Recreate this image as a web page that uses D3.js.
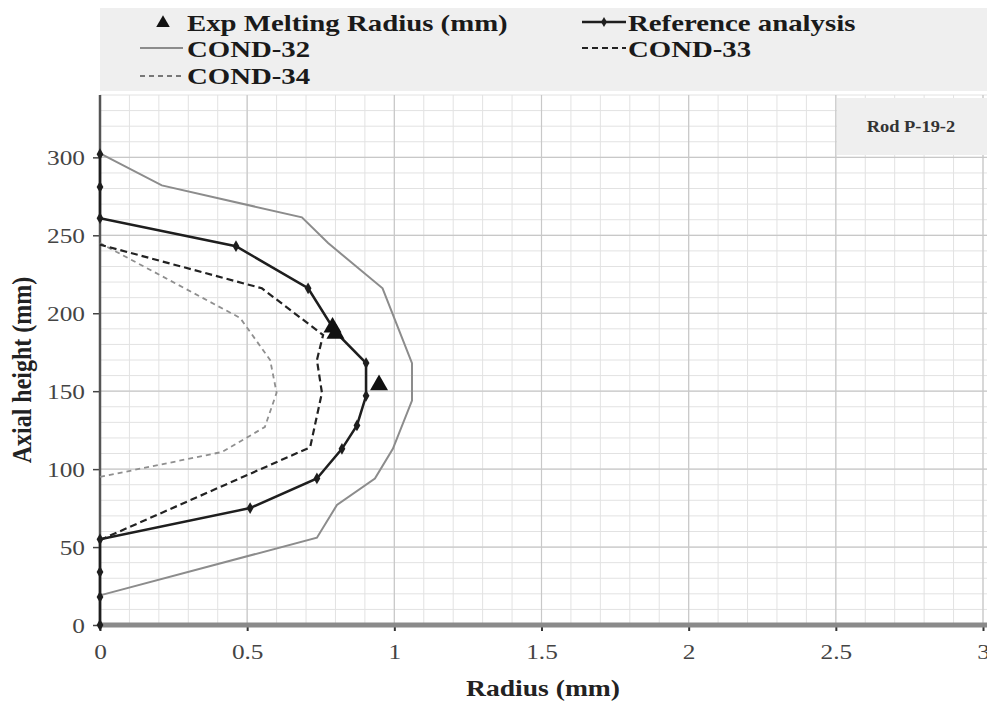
<!DOCTYPE html>
<html><head><meta charset="utf-8">
<script src="https://cdn.jsdelivr.net/npm/d3@7"></script>
<style>body{margin:0;background:#fff}svg{display:block}</style>
</head><body><svg id="c" width="987" height="702"></svg>
<script>
const xTicks = [0, 0.5, 1, 1.5, 2, 2.5, 3];
const xTickLabels = ["0", "0.5", "1", "1.5", "2", "2.5", "3"];
const yTicks = [0, 50, 100, 150, 200, 250, 300];
const yTickLabels = ["0", "50", "100", "150", "200", "250", "300"];

const expR = [0.79, 0.80, 0.948];
const expH = [191, 187, 154];

const refR = [0, 0, 0, 0, 0.51, 0.737, 0.822, 0.873, 0.904, 0.904, 0.80, 0.707, 0.462, 0, 0, 0];
const refH = [0, 18, 34, 55, 75, 94, 113, 128, 147, 168, 188, 216, 243, 261, 281, 302];

const c32R = [0, 0.737, 0.805, 0.934, 0.995, 1.06, 1.06, 0.96, 0.775, 0.686, 0.21, 0];
const c32H = [19, 56, 77, 94, 113, 144, 168, 216, 245, 261.5, 282, 302.6];

const c33R = [0, 0.714, 0.754, 0.737, 0.758, 0.55, 0];
const c33H = [54.5, 114, 149, 170, 186, 216, 244];

const c34R = [0, 0.415, 0.56, 0.60, 0.578, 0.476, 0];
const c34H = [95, 111, 127, 149, 170, 197, 245];

const legendLabels = ["Exp Melting Radius (mm)", "Reference analysis", "COND-32", "COND-33", "COND-34"];
const rodLabel = "Rod P-19-2";
const xTitle = "Radius (mm)";
const yTitle = "Axial height (mm)";

const svg = d3.select("#c");
const L = 100, R = 983, T = 95, B = 625;
const x = d3.scaleLinear().domain([0, 3]).range([L, R]);
const y = d3.scaleLinear().domain([0, 340]).range([B, T]);
const serif = "'Liberation Serif','Times New Roman',serif";
const S = 1.15;
function st(sel, s) {
  sel.each(function () {
    const e = d3.select(this);
    const xx = +e.attr("x") || 0, yy = +e.attr("y") || 0;
    e.attr("x", 0).attr("y", 0).attr("transform", `translate(${xx},${yy}) scale(${s},1)`);
  });
}

// legend background
svg.append("rect").attr("x", 100).attr("y", 8).attr("width", 887).attr("height", 83).attr("fill", "#efefef");

// grid
const g = svg.append("g");
g.selectAll(".vx").data(d3.range(0, 3.0001, 0.1)).enter().append("line")
  .attr("x1", d => x(d)).attr("x2", d => x(d)).attr("y1", T).attr("y2", B)
  .attr("stroke", "#e2e2e2").attr("stroke-width", 1);
g.selectAll(".hy").data(d3.range(0, 340.001, 10)).enter().append("line")
  .attr("x1", L).attr("x2", 987).attr("y1", d => y(d)).attr("y2", d => y(d))
  .attr("stroke", "#e2e2e2").attr("stroke-width", 1);
g.selectAll(".vX").data(xTicks).enter().append("line")
  .attr("x1", d => x(d)).attr("x2", d => x(d)).attr("y1", T).attr("y2", B)
  .attr("stroke", "#c8c8c8").attr("stroke-width", 1.2);
g.selectAll(".hY").data(yTicks).enter().append("line")
  .attr("x1", L).attr("x2", 987).attr("y1", d => y(d)).attr("y2", d => y(d))
  .attr("stroke", "#c8c8c8").attr("stroke-width", 1.2);

// rod box
svg.append("rect").attr("x", 837).attr("y", 98).attr("width", 150).attr("height", 57).attr("fill", "#efefef");
st(svg.append("text").attr("x", 911).attr("y", 132).attr("text-anchor", "middle")
  .attr("font-family", serif).attr("font-weight", "bold").attr("font-size", 16).attr("fill", "#333").text(rodLabel), S);

// axes
const xAxis = d3.axisBottom(x).tickValues(xTicks).tickFormat((d, i) => xTickLabels[i]).tickSize(6).tickPadding(12);
const xg = svg.append("g").attr("transform", `translate(0,${B})`).call(xAxis);
xg.select(".domain").remove();
xg.selectAll("line").attr("stroke", "#333").attr("stroke-width", 2);
xg.selectAll("text").attr("font-family", serif).attr("font-size", 22).attr("fill", "#444");
st(xg.selectAll("text"), S);
svg.append("line").attr("x1", L - 2).attr("x2", 987).attr("y1", B).attr("y2", B).attr("stroke", "#8a8a8a").attr("stroke-width", 5);

const yAxis = d3.axisLeft(y).tickValues(yTicks).tickFormat((d, i) => yTickLabels[i]).tickSize(7).tickPadding(8);
const yg = svg.append("g").attr("transform", `translate(${L},0)`).call(yAxis);
yg.select(".domain").remove();
yg.selectAll("line").attr("stroke", "#444").attr("stroke-width", 1.5);
yg.selectAll("text").attr("font-family", serif).attr("font-size", 22).attr("fill", "#444");
st(yg.selectAll("text"), S);
svg.append("line").attr("x1", L).attr("x2", L).attr("y1", T).attr("y2", B).attr("stroke", "#555").attr("stroke-width", 2.5);

// series
const line = d3.line().x(d => x(d[0])).y(d => y(d[1]));
const zip = (a, b) => a.map((v, i) => [v, b[i]]);

svg.append("path").attr("d", line(zip(c32R, c32H))).attr("fill", "none").attr("stroke", "#8c8c8c").attr("stroke-width", 2);
svg.append("path").attr("d", line(zip(c34R, c34H))).attr("fill", "none").attr("stroke", "#8f8f8f").attr("stroke-width", 1.8).attr("stroke-dasharray", "5,4");
svg.append("path").attr("d", line(zip(c33R, c33H))).attr("fill", "none").attr("stroke", "#222").attr("stroke-width", 2.2).attr("stroke-dasharray", "7,4");
svg.append("path").attr("d", line(zip(refR, refH))).attr("fill", "none").attr("stroke", "#1e1e1e").attr("stroke-width", 2.5);
const diamond = d3.symbol().type(d3.symbolDiamond).size(40);
svg.selectAll(".rm").data(zip(refR, refH)).enter().append("path")
  .attr("d", diamond).attr("transform", d => `translate(${x(d[0])},${y(d[1])})`).attr("fill", "#1e1e1e");
const tri = d3.symbol().type(d3.symbolTriangle).size(140);
svg.selectAll(".em").data(zip(expR, expH)).enter().append("path")
  .attr("d", tri).attr("transform", d => `translate(${x(d[0])},${y(d[1])})`).attr("fill", "#111");

// legend
const SL = 1.2;
const lf = s => s.attr("font-family", serif).attr("font-weight", "bold").attr("font-size", 24).attr("fill", "#1a1a1a");
svg.append("path").attr("d", d3.symbol().type(d3.symbolTriangle).size(80)).attr("transform", "translate(163,23)").attr("fill", "#111");
st(lf(svg.append("text").attr("x", 187).attr("y", 31).text(legendLabels[0])), SL);
svg.append("line").attr("x1", 582).attr("x2", 626).attr("y1", 22).attr("y2", 22).attr("stroke", "#1e1e1e").attr("stroke-width", 2.5);
svg.append("path").attr("d", d3.symbol().type(d3.symbolDiamond).size(30)).attr("transform", "translate(604,22)").attr("fill", "#1e1e1e");
st(lf(svg.append("text").attr("x", 628).attr("y", 31).text(legendLabels[1])), SL);
svg.append("line").attr("x1", 140).attr("x2", 183).attr("y1", 48).attr("y2", 48).attr("stroke", "#8c8c8c").attr("stroke-width", 2);
st(lf(svg.append("text").attr("x", 187).attr("y", 57).text(legendLabels[2])), SL);
svg.append("line").attr("x1", 582).attr("x2", 626).attr("y1", 48).attr("y2", 48).attr("stroke", "#222").attr("stroke-width", 2).attr("stroke-dasharray", "6,4");
st(lf(svg.append("text").attr("x", 628).attr("y", 57).text(legendLabels[3])), SL);
svg.append("line").attr("x1", 140).attr("x2", 183).attr("y1", 76).attr("y2", 76).attr("stroke", "#777").attr("stroke-width", 1.8).attr("stroke-dasharray", "5,4");
st(lf(svg.append("text").attr("x", 187).attr("y", 84).text(legendLabels[4])), SL);

// titles
st(svg.append("text").attr("x", 543).attr("y", 696).attr("text-anchor", "middle")
  .attr("font-family", serif).attr("font-weight", "bold").attr("font-size", 24).attr("fill", "#222").text(xTitle), S);
svg.append("text").attr("transform", `translate(31,370) rotate(-90) scale(1,${S})`).attr("text-anchor", "middle")
  .attr("font-family", serif).attr("font-weight", "bold").attr("font-size", 24).attr("fill", "#222").text(yTitle);
</script></body></html>
